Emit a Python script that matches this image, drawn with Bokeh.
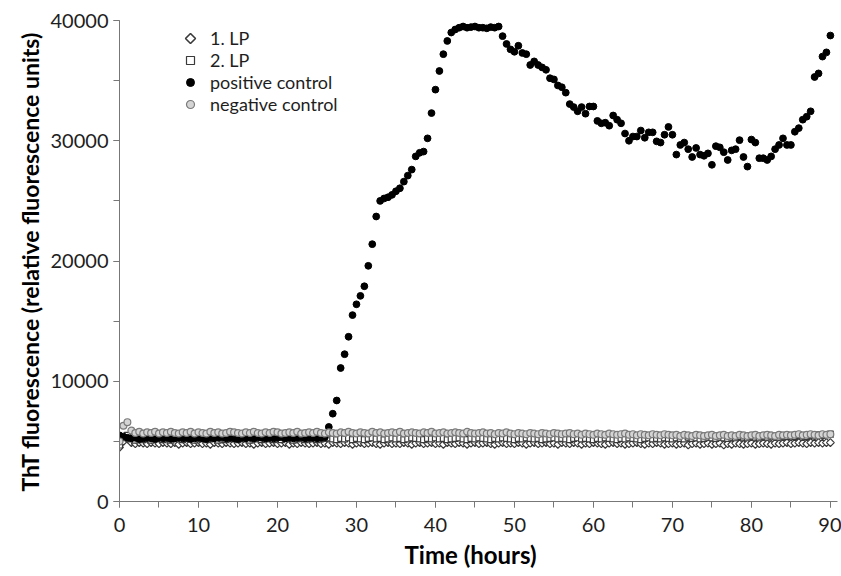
import numpy as np
from bokeh.plotting import figure
from bokeh.models import (ColumnDataSource, Legend, LegendItem, SingleIntervalTicker,
                          Title, PolyAnnotation)
from bokeh.embed import file_html
from bokeh.resources import INLINE

# ---------------- data ----------------
# measurements every 0.5 h from 0 to 90 h
positive_control = [
    5500, 5400, 5300, 5250, 5300, 5200, 5250, 5300, 5250, 5200,
    5300, 5250, 5300, 5200, 5250, 5300, 5250, 5300, 5200, 5250,
    5300, 5250, 5200, 5300, 5250, 5300, 5350, 5250, 5300, 5250,
    5200, 5300, 5250, 5300, 5250, 5350, 5300, 5250, 5300, 5250,
    5300, 5350, 5250, 5300, 5250, 5300, 5350, 5250, 5300, 5300,
    5250, 5300, 5350, 6200, 7300, 8400, 11100, 12250, 13700, 15500,
    16400, 17100, 17900, 19600, 21400, 23700, 25000, 25200, 25300, 25500,
    25800, 26050, 26600, 27100, 27600, 28700, 29000, 29100, 30200, 32300,
    34250, 35800, 37200, 38300, 39000, 39250, 39400, 39500, 39400, 39450,
    39500, 39400, 39400, 39350, 39450, 39400, 39500, 38700, 38050, 37600,
    37400, 37900, 37300, 37200, 36300, 36600, 36300, 36100, 35900, 35200,
    35100, 34600, 34450, 34000, 33050, 32800, 32450, 32800, 32250, 32850,
    32850, 31650, 31450, 31500, 31250, 32100, 31750, 31450, 30600, 30000,
    30350, 30350, 30850, 30250, 30700, 30700, 29950, 29850, 30500, 31150,
    30500, 28850, 29650, 29850, 29300, 28650, 29400, 28850, 28750, 28950,
    28000, 29550, 29450, 29050, 28400, 29200, 29300, 30050, 28650, 27850,
    30100, 29850, 28550, 28550, 28400, 28700, 29300, 29650, 30200, 29650,
    29650, 30750, 31050, 31750, 32000, 32450, 35300, 35600, 37000, 37350,
    38750,
]

negative_control = [
    5000, 6300, 6600, 5900, 5700, 5800, 5650, 5750, 5700, 5800,
    5650, 5750, 5700, 5800, 5700, 5650, 5750, 5700, 5800, 5650,
    5750, 5700, 5650, 5800, 5700, 5750, 5650, 5700, 5800, 5750,
    5700, 5650, 5750, 5700, 5800, 5700, 5650, 5750, 5700, 5800,
    5750, 5650, 5700, 5750, 5700, 5800, 5650, 5700, 5750, 5700,
    5800, 5700, 5650, 5750, 5700, 5650, 5750, 5700, 5800, 5700,
    5650, 5750, 5700, 5650, 5800, 5700, 5750, 5650, 5700, 5750,
    5700, 5800, 5650, 5700, 5750, 5700, 5650, 5750, 5700, 5800,
    5650, 5700, 5750, 5650, 5700, 5750, 5700, 5650, 5800, 5700,
    5650, 5700, 5750, 5650, 5700, 5600, 5700, 5650, 5750, 5650,
    5600, 5700, 5650, 5600, 5700, 5650, 5600, 5700, 5650, 5600,
    5700, 5650, 5600, 5650, 5700, 5600, 5650, 5550, 5650, 5600,
    5550, 5650, 5600, 5550, 5650, 5600, 5550, 5600, 5650, 5550,
    5600, 5500, 5600, 5550, 5500, 5600, 5550, 5500, 5600, 5550,
    5500, 5550, 5450, 5550, 5500, 5450, 5550, 5500, 5450, 5500,
    5550, 5450, 5500, 5550, 5450, 5500, 5450, 5550, 5500, 5450,
    5500, 5550, 5450, 5500, 5550, 5500, 5450, 5550, 5500, 5550,
    5500, 5550, 5600, 5500, 5550, 5600, 5550, 5500, 5600, 5550,
    5600,
]

lp2 = [
    4700, 5300, 5500, 5200, 5100, 5200, 5150, 5250, 5100, 5200,
    5250, 5150, 5200, 5100, 5250, 5200, 5150, 5250, 5200, 5100,
    5200, 5250, 5150, 5200, 5250, 5100, 5200, 5150, 5250, 5200,
    5150, 5250, 5200, 5100, 5200, 5250, 5150, 5200, 5250, 5150,
    5200, 5150, 5250, 5200, 5100, 5200, 5250, 5150, 5200, 5250,
    5150, 5200, 5250, 5300, 5200, 5150, 5250, 5200, 5300, 5150,
    5250, 5200, 5150, 5250, 5300, 5200, 5250, 5150, 5200, 5300,
    5200, 5250, 5150, 5200, 5300, 5250, 5200, 5150, 5250, 5200,
    5300, 5200, 5250, 5150, 5200, 5250, 5300, 5200, 5150, 5250,
    5200, 5300, 5250, 5200, 5150, 5250, 5200, 5300, 5250, 5200,
    5150, 5250, 5200, 5300, 5250, 5200, 5250, 5150, 5200, 5250,
    5300, 5200, 5250, 5200, 5150, 5250, 5300, 5200, 5250, 5200,
    5150, 5250, 5200, 5300, 5250, 5200, 5150, 5250, 5200, 5300,
    5250, 5200, 5150, 5250, 5300, 5200, 5250, 5200, 5300, 5250,
    5200, 5300, 5250, 5200, 5350, 5250, 5300, 5200, 5250, 5350,
    5300, 5250, 5350, 5300, 5250, 5350, 5300, 5400, 5350, 5300,
    5400, 5350, 5300, 5400, 5350, 5450, 5400, 5350, 5450, 5400,
    5450, 5400, 5500, 5450, 5400, 5500, 5450, 5550, 5500, 5550,
    5600,
]

lp1 = [
    4500, 5000, 5200, 4900, 4800, 4900, 4850, 4800, 4900, 4850,
    4800, 4900, 4850, 4800, 4900, 4750, 4850, 4900, 4800, 4850,
    4900, 4800, 4850, 4750, 4900, 4850, 4800, 4900, 4850, 4800,
    4850, 4900, 4800, 4850, 4750, 4850, 4900, 4800, 4850, 4900,
    4800, 4850, 4900, 4750, 4850, 4800, 4900, 4850, 4800, 4850,
    4900, 4800, 4850, 4750, 4900, 4850, 4800, 4900, 4850, 4750,
    4850, 4900, 4800, 4850, 4900, 4800, 4750, 4850, 4900, 4800,
    4850, 4800, 4900, 4850, 4750, 4850, 4900, 4800, 4850, 4900,
    4800, 4850, 4750, 4900, 4850, 4800, 4900, 4850, 4750, 4850,
    4900, 4800, 4850, 4900, 4800, 4750, 4850, 4900, 4800, 4850,
    4800, 4900, 4850, 4750, 4850, 4900, 4800, 4850, 4900, 4800,
    4850, 4750, 4900, 4850, 4800, 4900, 4850, 4750, 4850, 4800,
    4900, 4850, 4800, 4750, 4850, 4900, 4800, 4850, 4750, 4800,
    4850, 4900, 4800, 4750, 4850, 4800, 4900, 4850, 4750, 4800,
    4850, 4750, 4800, 4850, 4700, 4800, 4850, 4750, 4800, 4850,
    4750, 4800, 4850, 4700, 4800, 4750, 4850, 4800, 4750, 4800,
    4850, 4750, 4800, 4850, 4800, 4750, 4850, 4800, 4850, 4900,
    4800, 4850, 4900, 4850, 4800, 4900, 4850, 4900, 4850, 4900,
    4900,
]

series_names = ["1. LP", "2. LP", "positive control", "negative control"]
x_title = "Time (hours)"
y_title = "ThT fluorescence (relative fluorescence units)"

SAMPLING_H = 0.5


def times(vals):
    return np.arange(len(vals)) * SAMPLING_H


FONT = "Lato"

p = figure(
    frame_width=718, frame_height=481,
    x_range=(0, 90.9), y_range=(0, 40000),
    min_border_left=119, min_border_right=4, min_border_top=20, min_border_bottom=0,
    output_backend="svg", toolbar_location=None,
    background_fill_color="white", border_fill_color="white",
)
p.outline_line_color = None
p.xgrid.visible = False
p.ygrid.visible = False

AX_COL = "#777777"
TXT_COL = "#1e1e1e"
MK_LINE = "#3a3a3a"

p.xaxis.ticker = SingleIntervalTicker(interval=10, num_minor_ticks=2)
p.yaxis.ticker = SingleIntervalTicker(interval=10000, num_minor_ticks=2)
for ax in (p.xaxis[0], p.yaxis[0]):
    ax.axis_line_color = AX_COL
    ax.major_tick_line_color = AX_COL
    ax.minor_tick_line_color = AX_COL
    ax.major_tick_in = 0
    ax.major_tick_out = 6
    ax.minor_tick_in = 0
    ax.minor_tick_out = 6
    ax.major_label_text_font = FONT
    ax.major_label_text_font_size = "20px"
    ax.major_label_text_color = TXT_COL
p.xaxis.major_label_standoff = 10
p.yaxis.major_label_standoff = 5

# axis titles placed as in the reference
xt = Title(text=x_title, align="left", offset=285, standoff=7,
           text_font=FONT, text_font_size="24px", text_font_style="bold",
           text_color="black")
p.add_layout(xt, "below")
yt = Title(text=y_title, align="left", offset=10, standoff=7,
           text_font=FONT, text_font_size="23px", text_font_style="bold",
           text_color="black")
p.add_layout(yt, "left")

src1 = ColumnDataSource(dict(t=times(lp1), v=lp1))
src2 = ColumnDataSource(dict(t=times(lp2), v=lp2))
srcp = ColumnDataSource(dict(t=times(positive_control), v=positive_control))
srcn = ColumnDataSource(dict(t=times(negative_control), v=negative_control))

r1 = p.scatter("t", "v", source=src1, marker="square", angle=np.pi / 4, size=5.5,
               fill_color="white", line_color=MK_LINE, line_width=1.2)
r2 = p.scatter("t", "v", source=src2, marker="square", size=6,
               fill_color="white", line_color=MK_LINE, line_width=1.2)
rp = p.scatter("t", "v", source=srcp, marker="circle", size=6.8,
               fill_color="black", line_color="black", line_width=1)
rn = p.scatter("t", "v", source=srcn, marker="circle", size=6.8,
               fill_color="#d4d4d4", line_color="#7a7a7a", line_width=1.2)

# legend glyphs are never rotated by Bokeh, so the "1. LP" key gets an
# empty glyph and its diamond is drawn as a small screen-space polygon
key_blank = p.scatter(x=[], y=[], marker="square", fill_alpha=0, line_alpha=0)

legend_rows_px = [38, 60, 82, 104]      # row centres below the page top
frame_top_px, frame_h, key_x = 20, 481, 71
GLYPH = 20
for name, r, cy in zip(series_names, [key_blank, r2, rp, rn], legend_rows_px):
    y_from_bottom = frame_h - (cy - frame_top_px)
    lg = Legend(
        items=[LegendItem(label=name, renderers=[r])],
        location=(key_x - GLYPH // 2, y_from_bottom - 10.8),
        label_text_font=FONT, label_text_font_size="18px", label_text_color=TXT_COL,
        label_height=19, glyph_height=GLYPH, glyph_width=GLYPH, label_standoff=10,
        spacing=0, padding=0, margin=0,
        border_line_color=None, background_fill_alpha=0,
    )
    p.add_layout(lg)

d_cy = frame_h - (legend_rows_px[0] - frame_top_px)
d_r = 5
p.add_layout(PolyAnnotation(
    xs=[key_x, key_x + d_r, key_x, key_x - d_r],
    ys=[d_cy + d_r, d_cy, d_cy - d_r, d_cy],
    xs_units="screen", ys_units="screen",
    fill_color="white", fill_alpha=1, line_color=MK_LINE, line_alpha=1,
    line_width=1.6,
))

open("out.html", "w").write(file_html(p, INLINE))
